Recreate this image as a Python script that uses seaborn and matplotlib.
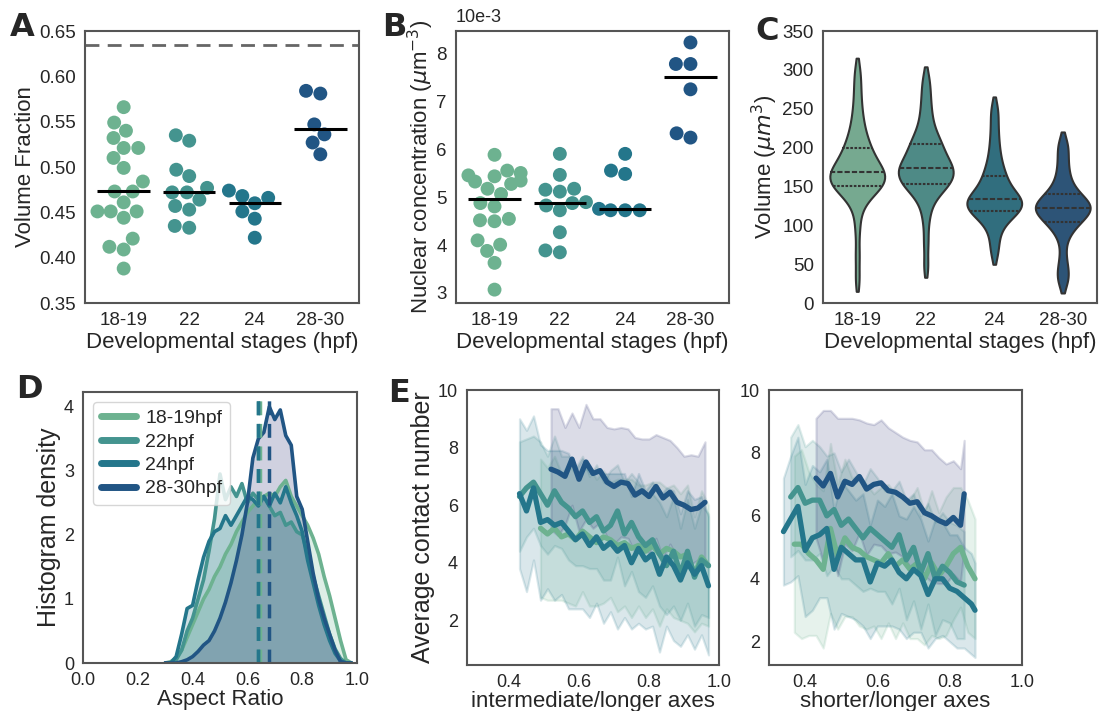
import numpy as np
import pandas as pd
import matplotlib
matplotlib.use("Agg")
import matplotlib.pyplot as plt
import seaborn as sns

stages = ["18-19", "22", "24", "28-30"]

# A: volume fraction per embryo
vf_1819 = [0.566, 0.549, 0.540, 0.532, 0.521, 0.521, 0.510, 0.499, 0.484, 0.473,
           0.473, 0.461, 0.451, 0.451, 0.451, 0.444, 0.421, 0.412, 0.409, 0.388]
vf_22 = [0.535, 0.529, 0.497, 0.490, 0.477, 0.472, 0.472, 0.464, 0.457, 0.453, 0.435, 0.433]
vf_24 = [0.474, 0.468, 0.466, 0.460, 0.451, 0.443, 0.422]
vf_2830 = [0.584, 0.581, 0.547, 0.536, 0.527, 0.514]
random_close_packing = 0.635

# B: nuclear concentration (x 10e-3 um^-3)
nc_1819 = [5.89, 5.56, 5.51, 5.46, 5.44, 5.35, 5.33, 5.28, 5.18, 5.07,
           4.88, 4.81, 4.55, 4.52, 4.50, 4.10, 4.01, 3.88, 3.63, 3.07]
nc_22 = [5.91, 5.47, 5.18, 5.16, 5.12, 4.90, 4.88, 4.83, 4.73, 4.27, 3.89, 3.85]
nc_24 = [5.91, 5.56, 5.49, 4.76, 4.73, 4.73, 4.73]
nc_2830 = [8.24, 7.79, 7.79, 7.26, 6.34, 6.25]

# C: nuclear volumes (um^3)
vol_1819 = [30, 62, 95, 118, 130, 138, 142, 145, 147, 149,
            151, 153, 155, 157, 159, 161, 163, 165, 166, 167,
            169, 171, 174, 177, 180, 183, 186, 190, 194, 198,
            202, 207, 213, 220, 228, 238, 250, 265, 282, 300]
vol_22 = [47, 78, 105, 122, 132, 140, 145, 148, 150, 152,
          154, 157, 160, 162, 164, 166, 168, 170, 172, 173,
          175, 177, 180, 183, 186, 189, 192, 196, 200, 204,
          206, 210, 215, 221, 229, 238, 249, 261, 275, 290]
vol_24 = [62, 74, 86, 95, 102, 107, 110, 113, 115, 117,
          119, 121, 123, 124, 126, 127, 129, 130, 132, 133,
          135, 137, 139, 141, 144, 147, 150, 154, 158, 162,
          166, 171, 177, 184, 192, 202, 213, 226, 240, 253]
vol_2830 = [25, 32, 40, 48, 62, 80, 90, 96, 100, 103,
            105, 107, 110, 113, 115, 117, 119, 120, 121, 122,
            123, 124, 125, 127, 129, 131, 133, 135, 138, 140,
            143, 147, 152, 158, 165, 173, 182, 192, 201, 208]

# D: aspect ratio histogram density
ar_bins = [0.30, 0.32, 0.34, 0.36, 0.38, 0.40, 0.42, 0.44, 0.46, 0.48, 0.50, 0.52,
           0.54, 0.56, 0.58, 0.60, 0.62, 0.64, 0.66, 0.68, 0.70, 0.72, 0.74, 0.76,
           0.78, 0.80, 0.82, 0.84, 0.86, 0.88, 0.90, 0.92, 0.94, 0.96, 0.98]
ar_1819 = [0, 0.02, 0.08, 0.2, 0.4, 0.6, 0.8, 1.0, 1.15, 1.35, 1.5, 1.7,
           1.85, 2.05, 2.2, 2.35, 2.45, 2.55, 2.6, 2.65, 2.6, 2.75, 2.85, 2.6,
           2.45, 2.3, 2.15, 1.95, 1.7, 1.35, 1.05, 0.7, 0.35, 0.05, 0]
ar_22 = [0, 0, 0.05, 0.2, 0.5, 0.7, 1.0, 1.3, 1.75, 2.25, 2.95, 2.55,
         2.75, 2.6, 2.8, 2.5, 2.65, 2.55, 2.6, 2.45, 2.3, 2.35, 2.15, 2.2,
         2.05, 2.0, 1.7, 1.35, 1.05, 0.75, 0.45, 0.22, 0.07, 0, 0]
ar_24 = [0, 0, 0.1, 0.45, 0.85, 0.9, 1.3, 1.65, 1.9, 2.05, 2.1, 2.3,
         2.15, 2.3, 2.45, 2.6, 2.55, 2.45, 2.6, 2.45, 2.65, 2.5, 2.75, 2.5,
         2.3, 2.05, 1.6, 1.25, 0.9, 0.6, 0.35, 0.15, 0.03, 0, 0]
ar_2830 = [0, 0, 0, 0.02, 0.05, 0.1, 0.18, 0.28, 0.35, 0.5, 0.7, 0.95,
           1.25, 1.6, 2.0, 2.5, 3.2, 3.5, 3.6, 4.0, 3.8, 3.95, 3.55, 3.4,
           2.6, 2.4, 1.9, 1.4, 1.0, 0.7, 0.45, 0.2, 0.02, 0, 0]
ar_means = [0.645, 0.64, 0.64, 0.68]

# E1: contact number vs intermediate/longer axes (mean, sd)
e1_x_1819 = [0.49, 0.51, 0.53, 0.55, 0.57, 0.59, 0.61, 0.63, 0.65, 0.67, 0.69, 0.71, 0.73,
             0.75, 0.77, 0.79, 0.81, 0.83, 0.85, 0.87, 0.89, 0.91, 0.93, 0.95, 0.97]
e1_m_1819 = [5.2, 5.0, 5.2, 4.9, 5.0, 4.8, 5.1, 4.9, 4.7, 4.9, 4.8, 4.6, 4.7,
             4.5, 4.6, 4.4, 4.6, 4.3, 4.5, 4.4, 4.2, 4.3, 3.6, 4.2, 3.9]
e1_s_1819 = [2.4, 2.3, 2.5, 2.2, 2.4, 2.3, 2.1, 2.4, 2.2, 2.3, 2.0, 2.3, 2.2,
             2.4, 2.1, 2.3, 2.2, 2.5, 2.1, 2.3, 2.2, 2.4, 2.0, 2.3, 2.1]
e1_x_22 = [0.43, 0.45, 0.47, 0.49, 0.51, 0.53, 0.55, 0.57, 0.59, 0.61, 0.63, 0.65, 0.67, 0.69,
           0.71, 0.73, 0.75, 0.77, 0.79, 0.81, 0.83, 0.85, 0.87, 0.89, 0.91, 0.93, 0.95, 0.97]
e1_m_22 = [6.3, 6.6, 6.8, 6.4, 6.0, 6.5, 6.1, 5.9, 5.6, 5.8, 5.4, 5.6, 5.1, 5.3,
           5.8, 5.0, 5.4, 4.9, 4.6, 4.8, 4.3, 3.9, 4.4, 3.6, 4.4, 3.5, 4.1, 3.9]
e1_s_22 = [1.9, 1.7, 1.6, 1.8, 1.7, 1.9, 1.6, 1.8, 1.7, 1.9, 1.6, 1.8, 1.7, 1.9,
           1.6, 1.8, 1.7, 1.9, 1.8, 1.6, 1.8, 1.7, 1.9, 1.6, 1.8, 1.7, 1.9, 1.8]
e1_x_24 = e1_x_22
e1_m_24 = [6.4, 5.8, 6.6, 5.4, 5.5, 5.3, 5.4, 5.1, 4.8, 5.0, 4.6, 4.9, 4.5, 4.7,
           4.4, 4.6, 4.0, 4.5, 4.1, 4.3, 3.6, 4.2, 3.9, 3.4, 4.0, 3.6, 3.9, 3.2]
e1_s_24 = [2.6, 2.8, 2.5, 2.7, 2.4, 2.6, 2.5, 2.7, 2.4, 2.6, 2.5, 2.3, 2.6, 2.4,
           2.7, 2.5, 2.3, 2.6, 2.4, 2.5, 2.7, 2.4, 2.6, 2.3, 2.5, 2.6, 2.4, 2.4]
e1_x_2830 = [0.52, 0.54, 0.56, 0.58, 0.60, 0.62, 0.64, 0.66, 0.68, 0.70, 0.72, 0.74,
             0.76, 0.78, 0.80, 0.82, 0.84, 0.86, 0.88, 0.90, 0.92, 0.94, 0.96]
e1_m_2830 = [7.25, 7.15, 7.0, 7.6, 6.9, 7.5, 7.1, 7.2, 6.8, 6.65, 6.8, 6.75,
             6.35, 6.5, 6.3, 6.65, 6.25, 6.45, 6.1, 6.0, 5.85, 5.9, 6.1]
e1_s_2830 = [2.1, 2.2, 1.7, 1.6, 1.8, 2.0, 1.9, 1.8, 1.9, 2.0, 1.9, 1.9,
             2.0, 1.8, 2.0, 1.8, 2.1, 1.8, 1.9, 1.7, 1.9, 1.8, 2.1]

# E2: contact number vs shorter/longer axes (mean, sd)
e2_x_1819 = [0.37, 0.39, 0.41, 0.43, 0.45, 0.47, 0.49, 0.51, 0.53, 0.55, 0.57, 0.59, 0.61,
             0.63, 0.65, 0.67, 0.69, 0.71, 0.73, 0.75, 0.77, 0.79, 0.81, 0.83, 0.85, 0.87]
e2_m_1819 = [5.1, 5.1, 4.8, 4.6, 4.3, 5.6, 4.7, 5.3, 5.0, 4.9, 4.7, 4.6, 4.5,
             4.8, 4.4, 4.6, 4.3, 4.5, 4.0, 4.5, 4.1, 4.4, 4.8, 5.0, 4.4, 4.0]
e2_s_1819 = [2.8, 3.0, 2.6, 2.4, 2.5, 2.7, 2.3, 2.5, 2.2, 2.4, 2.3, 2.1, 2.4,
             2.2, 2.3, 2.0, 2.2, 2.4, 2.1, 2.3, 2.0, 2.2, 2.1, 1.9, 2.1, 1.9]
e2_x_22 = [0.36, 0.38, 0.40, 0.42, 0.44, 0.46, 0.48, 0.50, 0.52, 0.54, 0.56, 0.58, 0.60,
           0.62, 0.64, 0.66, 0.68, 0.70, 0.72, 0.74, 0.76, 0.78, 0.80, 0.82, 0.84]
e2_m_22 = [6.6, 6.9, 6.4, 6.5, 6.5, 6.0, 6.2, 5.7, 5.9, 5.6, 5.3, 5.6, 5.4,
           5.2, 5.0, 5.4, 4.6, 5.0, 4.2, 4.8, 4.0, 4.4, 4.2, 3.9, 3.8]
e2_s_22 = [1.9, 2.0, 1.8, 1.9, 1.7, 1.9, 1.8, 1.7, 1.9, 1.8, 1.7, 1.9, 1.8,
           1.6, 1.8, 1.7, 1.9, 1.7, 1.8, 1.6, 1.8, 1.7, 1.6, 1.8, 1.7]
e2_x_24 = [0.34, 0.36, 0.38, 0.40, 0.42, 0.44, 0.46, 0.48, 0.50, 0.52, 0.54, 0.56, 0.58, 0.60,
           0.62, 0.64, 0.66, 0.68, 0.70, 0.72, 0.74, 0.76, 0.78, 0.80, 0.82, 0.84, 0.86, 0.87]
e2_m_24 = [5.5, 5.9, 6.3, 4.9, 5.3, 5.4, 5.6, 4.3, 5.0, 4.8, 4.6, 4.6, 3.9, 4.5,
           4.4, 4.6, 4.2, 4.0, 4.3, 4.1, 3.5, 4.0, 4.0, 3.7, 3.6, 3.4, 3.2, 3.0]
e2_s_24 = [1.7, 2.0, 2.2, 2.1, 2.3, 2.0, 2.2, 1.9, 2.1, 2.0, 1.9, 2.1, 1.8, 2.0,
           1.9, 2.1, 1.8, 1.9, 2.0, 1.8, 1.7, 1.9, 1.8, 1.7, 1.8, 1.6, 1.6, 1.5]
e2_x_2830 = [0.43, 0.45, 0.47, 0.49, 0.51, 0.53, 0.55, 0.57, 0.59, 0.61, 0.63,
             0.65, 0.67, 0.69, 0.71, 0.73, 0.75, 0.77, 0.79, 0.81, 0.83, 0.84]
e2_m_2830 = [7.2, 6.95, 7.35, 6.6, 7.1, 7.0, 7.25, 6.85, 7.0, 7.05, 6.8,
             6.75, 6.6, 6.4, 6.45, 6.1, 6.0, 5.85, 5.75, 5.95, 5.7, 6.7]
e2_s_2830 = [1.9, 2.4, 2.0, 2.5, 2.0, 2.1, 1.8, 2.1, 1.9, 2.0, 2.0,
             1.9, 1.9, 2.0, 1.9, 2.0, 2.1, 2.0, 1.9, 1.8, 1.8, 1.7]


def long_table(groups, name):
    rows = []
    for stage, vals in zip(stages, groups):
        for v in vals:
            rows.append({"stage": stage, name: v})
    return pd.DataFrame(rows)


def panel_letter(fig, x, y, letter):
    fig.text(x, y, letter, fontsize=23, fontweight="bold", family=["DejaVu Sans"],
             ha="left", va="center")


def swarm_panel(ax, groups, name, pal):
    df = long_table(groups, name)
    sns.swarmplot(data=df, x="stage", y=name, hue="stage", palette=pal, size=10,
                  legend=False, ax=ax, order=stages)
    medians = [np.median(g) for g in groups]
    idx = np.arange(len(stages))
    ax.hlines(medians, idx - 0.4, idx + 0.4, color="black", lw=2.2, zorder=5)
    ax.set_xlabel("Developmental stages (hpf)")


def band_panel(ax, series, pal, fills):
    for (xs, ms, sds), c, fc in zip(series, pal, fills):
        xs, ms, sds = np.array(xs), np.array(ms), np.array(sds)
        ax.fill_between(xs, ms - sds, ms + sds, color=fc, alpha=0.17, lw=1.6)
    for (xs, ms, sds), c in zip(series, pal):
        sns.lineplot(x=xs, y=ms, color=c, lw=3.8, ax=ax)
    ax.set_xticks([0.4, 0.6, 0.8, 1.0])
    ax.set_yticks([2, 4, 6, 8, 10])
    ax.tick_params(labelsize=13)


def main():
    sns.set_style("white")
    plt.rcParams["font.family"] = ["Liberation Sans", "DejaVu Sans"]
    plt.rcParams["axes.edgecolor"] = "#555555"
    plt.rcParams["axes.linewidth"] = 1.5
    plt.rcParams["axes.labelsize"] = 16
    plt.rcParams["xtick.labelsize"] = 13.5
    plt.rcParams["ytick.labelsize"] = 13.5
    plt.rcParams["axes.labelpad"] = 2
    plt.rcParams["xtick.major.pad"] = 3
    plt.rcParams["ytick.major.pad"] = 3

    pal = sns.color_palette("crest", 4)
    fills = [pal[0], pal[1], pal[2], "#2c3172"]

    fig = plt.figure(figsize=(10.99, 7.11), dpi=100)
    W, H = 1099, 711

    def add_ax(l, t, r, b):
        return fig.add_axes([l / W, 1 - b / H, (r - l) / W, (b - t) / H])

    # A
    ax = add_ax(85, 31, 359, 303)
    swarm_panel(ax, [vf_1819, vf_22, vf_24, vf_2830], "vf", pal)
    ax.axhline(random_close_packing, color="#666666", lw=2, ls=(0, (5, 3)))
    ax.set_ylim(0.35, 0.65)
    ax.set_yticks([0.35, 0.40, 0.45, 0.50, 0.55, 0.60, 0.65])
    ax.set_yticklabels(["0.35", "0.40", "0.45", "0.50", "0.55", "0.60", "0.65"])
    ax.set_ylabel("Volume Fraction")
    panel_letter(fig, 10 / W, 1 - 28 / H, "A")

    # B
    ax = add_ax(456, 31, 729, 303)
    swarm_panel(ax, [nc_1819, nc_22, nc_24, nc_2830], "nc", pal)
    ax.set_ylim(2.79, 8.48)
    ax.set_yticks([3, 4, 5, 6, 7, 8])
    ax.set_ylabel(r"Nuclear concentration ($\mu$m$^{-3}$)", labelpad=0)
    ax.text(0.0, 1.02, "10e-3", transform=ax.transAxes, fontsize=13, ha="left", va="bottom")
    panel_letter(fig, 382 / W, 1 - 27 / H, "B")

    # C
    ax = add_ax(823, 31, 1097, 303)
    df = long_table([vol_1819, vol_22, vol_24, vol_2830], "vol")
    sns.violinplot(data=df, x="stage", y="vol", hue="stage", palette=pal, inner="quart",
                   cut=1, density_norm="width", bw_adjust=0.6, linewidth=1.5,
                   linecolor="#333333", legend=False, ax=ax, order=stages)
    ax.set_ylim(0, 350)
    ax.set_yticks(range(0, 351, 50))
    ax.set_ylabel(r"Volume ($\mu m^3$)")
    ax.set_xlabel("Developmental stages (hpf)")
    panel_letter(fig, 755 / W, 1 - 32 / H, "C")

    # D
    ax = add_ax(83, 392, 357, 663)
    x = np.array(ar_bins)
    for dens, c, fc, s in zip([ar_1819, ar_22, ar_24, ar_2830], pal, fills, stages):
        ax.fill_between(x, 0, dens, color=fc, alpha=0.22, lw=0)
        ax.plot(x, dens, color=c, lw=2.6, label=f"{s}hpf")
    for m, c in zip(ar_means, pal):
        ax.axvline(m, color=c, lw=2.5, ls=(0, (4, 2.5)))
    ax.set_xlim(0, 1)
    ax.set_ylim(0, 4.23)
    ax.set_xticks([0, 0.2, 0.4, 0.6, 0.8, 1.0])
    ax.set_yticks([0, 1, 2, 3, 4])
    ax.tick_params(labelsize=13)
    ax.set_xlabel("Aspect Ratio", labelpad=0)
    ax.set_ylabel("Histogram density", fontsize=18)
    leg = ax.legend(loc="upper left", fontsize=14, frameon=True, handlelength=1.8,
                    borderpad=0.4, labelspacing=0.3, handletextpad=0.5)
    for h in leg.get_lines():
        h.set_linewidth(5)
    panel_letter(fig, 16 / W, 1 - 390 / H, "D")

    # E1
    ax = add_ax(467, 390, 719, 665)
    band_panel(ax, [(e1_x_1819, e1_m_1819, e1_s_1819), (e1_x_22, e1_m_22, e1_s_22),
                    (e1_x_24, e1_m_24, e1_s_24), (e1_x_2830, e1_m_2830, e1_s_2830)], pal, fills)
    ax.set_xlim(0.28, 1.0)
    ax.set_ylim(0.45, 10)
    ax.set_xlabel("intermediate/longer axes", labelpad=0)
    ax.set_ylabel("Average contact number", fontsize=18)
    panel_letter(fig, 388 / W, 1 - 394 / H, "E")

    # E2
    ax = add_ax(769, 390, 1022, 665)
    band_panel(ax, [(e2_x_1819, e2_m_1819, e2_s_1819), (e2_x_22, e2_m_22, e2_s_22),
                    (e2_x_24, e2_m_24, e2_s_24), (e2_x_2830, e2_m_2830, e2_s_2830)], pal, fills)
    ax.set_xlim(0.30, 1.0)
    ax.set_ylim(1.26, 10)
    ax.set_xlabel("shorter/longer axes", labelpad=0)

    fig.savefig("out.png", dpi=100)
    plt.close(fig)


if __name__ == "__main__":
    main()
